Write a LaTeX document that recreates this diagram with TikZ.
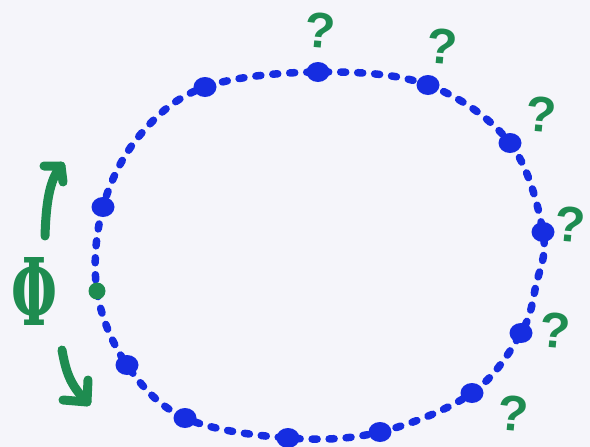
\documentclass[tikz,border=0pt]{standalone}
\usepackage{fontspec}
\newfontfamily\phifont{DejaVu Serif}
\newfontfamily\qfont{Liberation Sans}
\definecolor{penblue}{RGB}{22,45,225}
\definecolor{pengreen}{RGB}{30,140,80}
\definecolor{paper}{RGB}{245,245,250}
\tikzset{
  bigdot/.style={ellipse,fill=penblue,inner sep=0pt,minimum width=23pt,minimum height=20pt},
  gdot/.style={circle,fill=pengreen,inner sep=0pt,minimum size=17pt},
  orbit/.style={penblue,line width=7.5pt,line cap=round,dash pattern=on 5pt off 12pt},
  qmark/.style={text=pengreen,font=\qfont\bfseries\fontsize{50}{50}\selectfont,inner sep=0pt},
  pen/.style={pengreen,line width=9pt,line cap=round,line join=round}
}
\usetikzlibrary{shapes.geometric}
\begin{document}
\begin{tikzpicture}[x=1pt,y=-1pt]
\fill[paper] (0,0) rectangle (590,447);
\useasboundingbox (0,0) rectangle (590,447);
% points on the orbit
\coordinate (p1) at (318,72);
\coordinate (p2) at (428,85);
\coordinate (p3) at (510,143);
\coordinate (p4) at (543,232);
\coordinate (p4b) at (536,285);
\coordinate (p5) at (521,333);
\coordinate (p6) at (472,393);
\coordinate (p7) at (380,432);
\coordinate (p8) at (288,438);
\coordinate (p9) at (185,418);
\coordinate (p10) at (127,365);
\coordinate (p11) at (97,291);
\coordinate (p12) at (103,207);
\coordinate (p12b) at (140,135);
\coordinate (p13) at (205,87);
\draw[orbit] plot[smooth cycle,tension=0.6] coordinates {(p1) (p2) (p3) (p4) (p4b) (p5) (p6) (p7) (p8) (p9) (p10) (p11) (p12) (p12b) (p13)};
\foreach \p in {p1,p2,p3,p4,p5,p6,p7,p8,p9,p10,p12,p13}
  \node[bigdot] (d\p) at (\p) {};
\node[gdot] (phi0) at (p11) {};
% question marks
\node[qmark,rotate=-5] (q1) at (320,30) {?};
\node[qmark,rotate=-5] (q2) at (442,46) {?};
\node[qmark,rotate=-5] (q3) at (541,114) {?};
\node[qmark,rotate=-5] (q4) at (570,224) {?};
\node[qmark,rotate=-5] (q5) at (555,330) {?};
\node[qmark,rotate=-5] (q6) at (513,413) {?};
% Phi
\node[text=pengreen,inner sep=0pt] (phi) at (34,291) {\resizebox{46pt}{68pt}{\phifont\bfseries Φ}};
% arrows
\coordinate (ua0) at (45,236);
\coordinate (ua1) at (61,166);
\coordinate (ua2) at (44,166);
\coordinate (ua3) at (63,182);
\draw[pen] (ua0) .. controls (46,205) and (49,180) .. (ua1);
\draw[pen] (ua2) -- (ua1) -- (ua3);
\coordinate (da0) at (62,350);
\coordinate (da1) at (87,402);
\coordinate (da2) at (63,400);
\coordinate (da3) at (88,380);
\draw[pen] (da0) .. controls (66,372) and (70,385) .. (da1);
\draw[pen] (da2) -- (da1) -- (da3);
\end{tikzpicture}
\end{document}
